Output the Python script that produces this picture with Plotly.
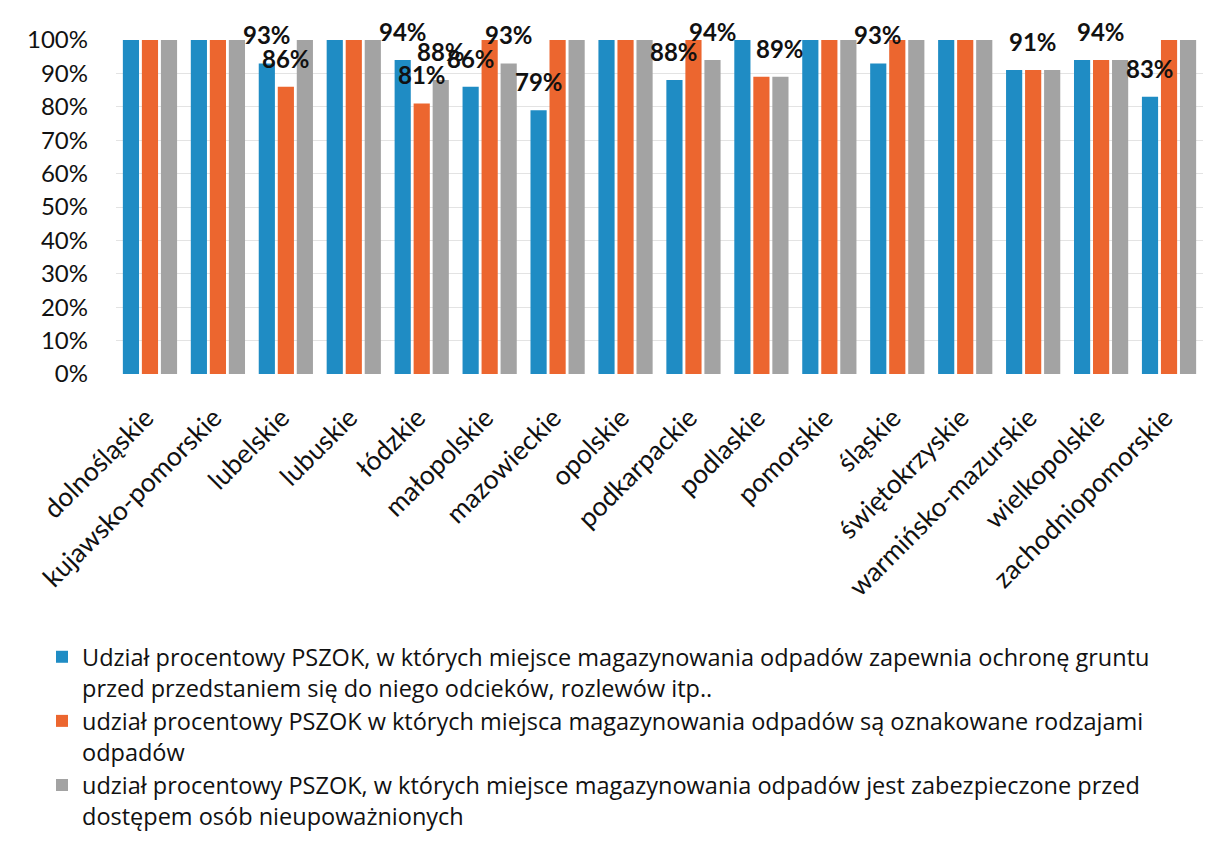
import plotly.graph_objects as go

categories = ["dolnośląskie", "kujawsko-pomorskie", "lubelskie", "lubuskie", "łódzkie",
              "małopolskie", "mazowieckie", "opolskie", "podkarpackie", "podlaskie",
              "pomorskie", "śląskie", "świętokrzyskie", "warmińsko-mazurskie",
              "wielkopolskie", "zachodniopomorskie"]

ochrona_gruntu = [100, 100, 93, 100, 94, 86, 79, 100, 88, 100, 100, 93, 100, 91, 94, 83]
oznakowanie = [100, 100, 86, 100, 81, 100, 100, 100, 100, 89, 100, 100, 100, 91, 94, 100]
zabezpieczenie = [100, 100, 100, 100, 88, 93, 100, 100, 94, 89, 100, 100, 100, 91, 94, 100]

# which values carry a data label (series index, category index)
labelled = [(0, 2), (1, 2), (0, 4), (1, 4), (2, 4), (0, 5), (2, 5), (0, 6),
            (0, 8), (2, 8), (2, 9), (0, 11), (1, 13), (1, 14), (0, 15)]

series_names = [
    "Udział procentowy PSZOK, w których miejsce magazynowania odpadów zapewnia ochronę gruntu<br>przed przedstaniem się do niego odcieków, rozlewów itp..",
    "udział procentowy PSZOK w których miejsca magazynowania odpadów są oznakowane rodzajami<br>odpadów",
    "udział procentowy PSZOK, w których miejsce magazynowania odpadów jest zabezpieczone przed<br>dostępem osób nieupoważnionych",
]
series_values = [ochrona_gruntu, oznakowanie, zabezpieczenie]
colors = ["#1F8CC4", "#EC662F", "#A3A3A3"]

FONT = "Lato"
W, H = 1206, 825
ML, MR, MT, MB = 107.5, 10.5, 32, 459

fig = go.Figure()
for name, vals, col in zip(series_names, series_values, colors):
    fig.add_trace(go.Bar(x=categories, y=vals, name=name, marker_color=col,
                         marker_line_width=0))

plot_w = W - ML - MR
cat_w = plot_w / len(categories)
bargap = 0.16
slot = cat_w * (1 - bargap) / 3

annotations = []
for s, c in labelled:
    v = series_values[s][c]
    annotations.append(dict(
        x=categories[c], y=v, xref="x", yref="y", text=f"<b>{v}%</b>",
        showarrow=False, yanchor="bottom", xanchor="center",
        xshift=(s - 1) * slot, yshift=12,
        font=dict(family=FONT, size=24, color="#111111")))

fig.update_layout(
    width=W, height=H,
    margin=dict(l=ML, r=MR, t=MT, b=MB, autoexpand=False),
    paper_bgcolor="white", plot_bgcolor="white",
    barmode="group", bargap=bargap, bargroupgap=0.15,
    font=dict(family=FONT, color="#111111"),
    annotations=annotations,
    showlegend=True,
    legend=dict(
        xref="container", yref="container",
        x=34 / W, y=1 - 627 / H, xanchor="left", yanchor="top",
        orientation="v", valign="top",
        font=dict(family="Open Sans", size=23.5, color="#111111"),
        tracegroupgap=0, itemwidth=30,
        bgcolor="rgba(0,0,0,0)",
    ),
)
fig.update_yaxes(range=[0, 100], tickvals=[0, 10, 20, 30, 40, 50, 60, 70, 80, 90, 100],
                 ticktext=[f"{v}%" for v in range(0, 101, 10)],
                 showgrid=True, gridcolor="#E3E3E3", gridwidth=1,
                 zeroline=False, showline=False, ticks="",
                 ticklabelstandoff=27,
                 tickfont=dict(family=FONT, size=24, color="#111111"))
fig.update_xaxes(tickangle=-45, showline=False, ticks="",
                 tickfont=dict(family=FONT, size=26.5, color="#111111"),
                 ticklabelstandoff=22, ticklabelshift=-4)

fig.write_html("out.html")
